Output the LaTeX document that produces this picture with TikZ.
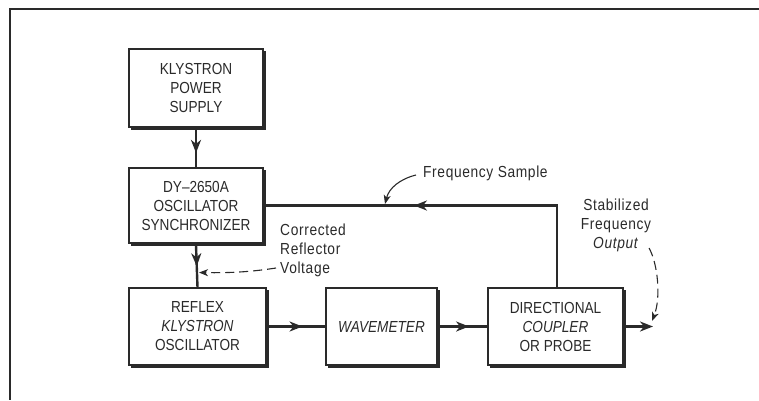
\documentclass[tikz,border=0pt]{standalone}
\usepackage{fontspec}
\setmainfont{Liberation Sans}[FakeStretch=0.85]
\newfontfamily\lblfont{Liberation Sans}[FakeStretch=0.86,LetterSpace=4]
\usetikzlibrary{arrows.meta,calc,decorations.markings}
\definecolor{ink}{HTML}{2A2A2A}
\newcommand\boxshade[1]{\draw[shadel] ($(#1.north east)+(1.6,3)$) -- ($(#1.south east)+(1.6,1.6)$) -- ($(#1.south west)+(3,1.6)$);}
\tikzset{
  blk/.style={draw=ink, line width=1.1pt, align=center, text=ink, inner sep=0pt,
    font=\fontsize{16}{19}\selectfont},
  shadel/.style={draw=ink, line width=2.6pt},
  conn/.style={draw=ink, line width=2.4pt},
  tipa/.style={-{Stealth[length=13pt,width=10pt,inset=4pt]}},
  midarrow/.style={postaction={decorate},decoration={markings,
    mark=at position #1 with {\arrow{Stealth[length=13pt,width=10pt,inset=4pt]}}}},
  lbl/.style={text=ink, inner sep=0pt, font=\lblfont\fontsize{16}{19}\selectfont},
  dasharr/.style={draw=ink, line width=1.1pt, dash pattern=on 9pt off 5pt,
    -{Stealth[length=9pt,width=7pt,inset=2.5pt]}},
  thinarr/.style={draw=ink, line width=1.1pt, -{Stealth[length=9pt,width=7pt,inset=2.5pt]}},
}
\begin{document}
\begin{tikzpicture}[x=1pt,y=-1pt]
\useasboundingbox (0,0) rectangle (759,400);
% frame
\draw[ink, line width=1.5pt] (759,9) -- (10,9) -- (10,400);
% boxes
\node[blk, minimum width=134pt, minimum height=78pt] (b1) at (196,88) {KLYSTRON\\POWER\\SUPPLY};
\node[blk, minimum width=134pt, minimum height=75pt] (b2) at (196,205.5) {DY--2650A\\OSCILLATOR\\SYNCHRONIZER};
\node[blk, minimum width=137pt, minimum height=77pt] (b3) at (197.5,326.5) {REFLEX\\\textit{KLYSTRON}\\OSCILLATOR};
\node[blk, minimum width=111pt, minimum height=77pt] (b4) at (381.5,326.5) {\textit{WAVEMETER}};
\node[blk, minimum width=135pt, minimum height=77pt] (b5) at (555.5,326.5) {DIRECTIONAL\\\textit{COUPLER}\\OR PROBE};
\boxshade{b1}\boxshade{b2}\boxshade{b3}\boxshade{b4}\boxshade{b5}
% connectors
\draw[conn, midarrow=0.62] ($(b1.south)+(0,1.6)$) -- (b2.north);
\draw[conn, midarrow=0.5] ($(b2.south)+(0,1.6)$) -- (b3.north);
\coordinate (jn) at ($(b2.south)!0.66!(b3.north)$);
\draw[conn, midarrow=0.6] ($(b3.east)+(1.6,0)$) -- (b4.west);
\draw[conn, midarrow=0.62] ($(b4.east)+(1.6,0)$) -- (b5.west);
\coordinate (out) at (653,326.5);
\draw[conn, tipa] ($(b5.east)+(1.6,0)$) -- (out);
\coordinate (fb) at (557,288);
\draw[conn, midarrow=0.60] (fb) |- (b2.east);
% labels
\node[lbl, anchor=west] (fs) at (423,173) {Frequency Sample};
\coordinate (fstail) at (416,175);
\coordinate (fstip) at (385,204);
\draw[thinarr] (fstail) .. controls (400,179) and (389,188) .. (fstip);
\node[lbl, anchor=west, align=left] (cv) at (280,250) {Corrected\\Reflector\\Voltage};
\coordinate (cvtail) at (276,268);
\coordinate (cvtip) at ($(jn)+(2,0)$);
\draw[dasharr] (cvtail) .. controls (250,272) and (230,273) .. (cvtip);
\node[lbl, align=center] (sf) at (616,225) {Stabilized\\Frequency\\\textit{Output}};
\coordinate (sftail) at (649,248);
\coordinate (sftip) at (652,321);
\draw[dasharr] (sftail) .. controls (658,264) and (661,298) .. (sftip);
\end{tikzpicture}
\end{document}
